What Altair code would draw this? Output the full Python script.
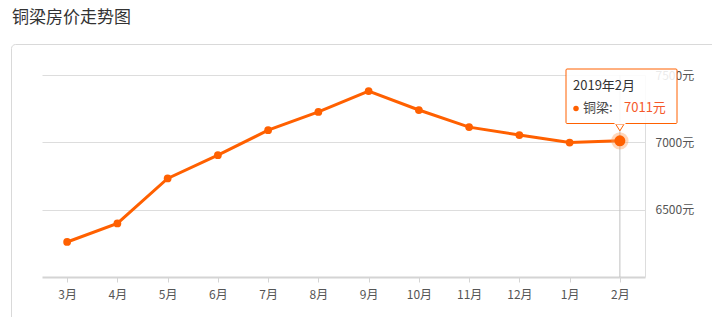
import altair as alt
import pandas as pd

# ---- data ----
months = ["3月", "4月", "5月", "6月", "7月", "8月", "9月", "10月", "11月", "12月", "1月", "2月"]
prices = [6260, 6398, 6732, 6905, 7090, 7226, 7381, 7240, 7113, 7054, 6998, 7011]
y_ticks = [6500, 7000, 7500]
city = "铜梁"
tip_title = "2019年2月"
chart_title = "铜梁房价走势图"

FONT = "Noto Sans CJK SC"
ORANGE = "#ff6000"

df = pd.DataFrame({"month": months, "price": prices})
last = df.iloc[[-1]].copy()
last["title"] = tip_title
last["city"] = city + ":"
last["label"] = last["price"].astype(str) + "元"

xenc = alt.X("month:N", sort=months,
             scale=alt.Scale(type="point", padding=0.5),
             axis=alt.Axis(title=None, labelAngle=0, labelFont=FONT, labelFontSize=12,
                           labelColor="#555", labelPadding=7, domainColor="#d4d4d4",
                           domainWidth=2, tickColor="#d4d4d4", tickSize=5, tickOffset=0,
                           grid=False))
yenc = alt.Y("price:Q", scale=alt.Scale(domain=[6000, 7500], nice=False, zero=False),
             axis=alt.Axis(title=None, orient="right", values=y_ticks,
                           labelExpr="datum.value + '元'", labelFont=FONT, labelFontSize=12,
                           labelColor="#555", labelPadding=10, labelAlign="left",
                           ticks=False, domain=True, domainColor="#dddddd",
                           gridColor="#dddddd", grid=True))

base = alt.Chart(df)

card = alt.Chart(alt.Data(values=[{"a": 1}])).mark_rect(
    fill="white", fillOpacity=0, stroke="#d9d9d9", strokeWidth=1, cornerRadius=4
).encode(x=alt.value(-30.5), x2=alt.value(720), y=alt.value(-30.5), y2=alt.value(320))

crosshair = alt.Chart(last).mark_rule(color="#c0c0c0", strokeWidth=1).encode(
    x=xenc, y=alt.value(0), y2=alt.value(202))

line = base.mark_line(color=ORANGE, strokeWidth=3).encode(x=xenc, y=yenc)
pts = base.mark_point(filled=True, color=ORANGE, size=60, opacity=1).encode(x=xenc, y=yenc)

halo = alt.Chart(last).mark_point(filled=True, color="#ff9a55", size=300, opacity=0.4).encode(
    x=xenc, y=yenc)
big = alt.Chart(last).mark_point(filled=True, color=ORANGE, size=120, opacity=1).encode(
    x=xenc, y=yenc)

# tooltip
tip_box = alt.Chart(last).mark_rect(
    fill="white", fillOpacity=0.88, stroke=ORANGE, strokeWidth=1, cornerRadius=1
).encode(x=alt.value(524), x2=alt.value(635), y=alt.value(-6), y2=alt.value(48.5))
tip_arrow = alt.Chart(last).mark_point(
    shape="M-1,-0.8L0,0.8L1,-0.8Z", filled=True, fill="white", stroke=ORANGE,
    strokeWidth=1, size=70, opacity=1
).encode(x=xenc, y=alt.value(52.5))
tip_gap = alt.Chart(last).mark_rule(color="white", strokeWidth=2).encode(
    x=alt.value(572.5), x2=alt.value(583.5), y=alt.value(48.3))
tip_title_t = alt.Chart(last).mark_text(
    align="left", baseline="middle", font=FONT, fontSize=13, color="#333"
).encode(x=alt.value(531), y=alt.value(11), text="title:N")
tip_dot = alt.Chart(last).mark_point(filled=True, color=ORANGE, size=30, opacity=1).encode(
    x=alt.value(534), y=alt.value(33.5))
tip_city = alt.Chart(last).mark_text(
    align="left", baseline="middle", font=FONT, fontSize=13, color="#444"
).encode(x=alt.value(541), y=alt.value(33), text="city:N")
tip_val = alt.Chart(last).mark_text(
    align="left", baseline="middle", font=FONT, fontSize=13, color="#f5582a"
).encode(x=alt.value(582), y=alt.value(33), text="label:N")

chart = alt.layer(
    card, crosshair, line, pts, halo, big,
    tip_box, tip_arrow, tip_gap, tip_title_t, tip_dot, tip_city, tip_val
).properties(
    width=603, height=202,
    background="white",
    title=alt.TitleParams(chart_title, anchor="start", frame="group", font=FONT, fontSize=17,
                          fontWeight="normal", color="#333", dx=-30, offset=17),
    autosize=alt.AutoSizeParams(type="none"),
    padding={"left": 42, "top": 75, "right": 67, "bottom": 40},
).configure_view(strokeWidth=0)

chart.save("out.html", embed_options={"renderer": "svg", "actions": False})
